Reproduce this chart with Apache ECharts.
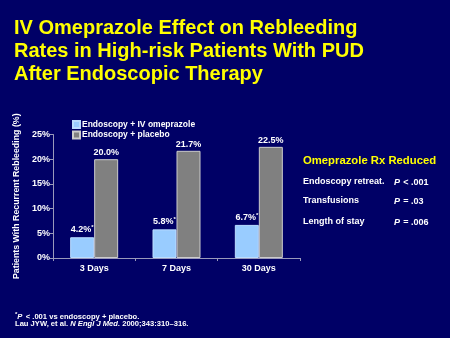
<!DOCTYPE html>
<html><head><meta charset="utf-8">
<style>html,body{margin:0;padding:0;background:#000066;}#c{width:450px;height:338px;}</style>
<script src="https://cdn.jsdelivr.net/npm/echarts@6/dist/echarts.min.js"></script>
</head><body><div id="c"></div>
<script>
var categories = ['3 Days', '7 Days', '30 Days'];
var omeprazole = [4.2, 5.8, 6.7];
var placebo = [20.0, 21.7, 22.5];
var seriesNames = ['Endoscopy + IV omeprazole', 'Endoscopy + placebo'];
var yTicks = [0, 5, 10, 15, 20, 25];
var titleLines = ['IV Omeprazole Effect on Rebleeding', 'Rates in High-risk Patients With PUD', 'After Endoscopic Therapy'];
var panelRows = [['Endoscopy retreat.', '<'], ['Transfusions', '='], ['Length of stay', '=']];
var panelP = ['.001', '.03', '.006'];

var F = 'Arial, "Liberation Sans", sans-serif';
var chart = echarts.init(document.getElementById('c'));
var graphics = [];
titleLines.forEach(function (t, i) {
  graphics.push({type: 'text', left: 14, top: 18 + i * 23,
    style: {text: t, fill: '#ffff00', font: 'bold 20px ' + F}});
});
graphics.push({type: 'text', left: 303, top: 155,
  style: {text: 'Omeprazole Rx Reduced', fill: '#ffff00', font: 'bold 11.3px ' + F}});
var rowY = [177, 196, 217];
panelRows.forEach(function (r, i) {
  graphics.push({type: 'text', left: 303, top: rowY[i],
    style: {text: r[0], fill: '#ffffff', font: 'bold 9px ' + F}});
  graphics.push({type: 'text', left: 394, top: rowY[i],
    style: {text: '{i|P} {n|' + r[1] + ' ' + panelP[i] + '}', rich: {
      i: {fill: '#ffffff', font: 'italic bold 9px ' + F},
      n: {fill: '#ffffff', font: 'bold 9px ' + F}}}});
});
graphics.push({type: 'text', left: 15, top: 311,
  style: {text: '{s|*}{i|P} {n|< .001 vs endoscopy + placebo.}', rich: {
    s: {fill: '#fff', font: 'bold 6px ' + F, verticalAlign: 'top', padding: [0,0,4,0]},
    i: {fill: '#fff', font: 'italic bold 7.6px ' + F},
    n: {fill: '#fff', font: 'bold 7.6px ' + F}}}});
graphics.push({type: 'text', left: 15, top: 319.5,
  style: {text: '{n|Lau JYW, et al. }{i|N Engl J Med.}{n| 2000;343:310–316.}', rich: {
    i: {fill: '#fff', font: 'italic bold 7.6px ' + F},
    n: {fill: '#fff', font: 'bold 7.6px ' + F}}}});

var lbl = function (star) {
  return {show: true, position: 'top', distance: 2,
    formatter: function (p) { return p.value.toFixed(1) + '%' + (star ? '{s|*}' : ''); },
    color: '#fff', fontFamily: F, fontWeight: 'bold', fontSize: 9,
    rich: {s: {color: '#fff', fontSize: 6, fontWeight: 'bold', padding: [0, 0, 5, 0]}}};
};

chart.setOption({
  backgroundColor: '#000066',
  animation: false,
  graphic: graphics,
  legend: {orient: 'vertical', left: 67, top: 115, itemWidth: 7, itemHeight: 7, itemGap: 1.5,
    icon: 'rect', data: seriesNames,
    textStyle: {color: '#fff', fontFamily: F, fontWeight: 'bold', fontSize: 8.5, padding: [0,0,0,-3]}},
  grid: {left: 53, right: 150, top: 134.5, bottom: 80},
  xAxis: {type: 'category', data: categories,
    axisLine: {lineStyle: {color: '#9999bb', width: 1}},
    axisTick: {show: true, length: 3, lineStyle: {color: '#9999bb'}},
    axisLabel: {color: '#fff', fontFamily: F, fontWeight: 'bold', fontSize: 9, margin: 6}},
  yAxis: {type: 'value', min: 0, max: 25, interval: 5,
    name: 'Patients With Recurrent Rebleeding (%)', nameLocation: 'middle', nameGap: 28,
    nameTextStyle: {color: '#fff', fontFamily: F, fontWeight: 'bold', fontSize: 8.8},
    axisLine: {show: true, lineStyle: {color: '#9999bb'}},
    axisTick: {show: true, length: 3, lineStyle: {color: '#9999bb'}},
    splitLine: {show: false},
    axisLabel: {color: '#fff', fontFamily: F, fontWeight: 'bold', fontSize: 9, margin: 3,
      formatter: function (v) { return yTicks.indexOf(v) >= 0 ? v + '%' : ''; }}},
  series: [
    {name: seriesNames[0], type: 'bar', data: omeprazole, barWidth: 24, barGap: '0%',
      itemStyle: {color: '#99ccff', borderColor: '#bbddff', borderWidth: 1}, label: lbl(true)},
    {name: seriesNames[1], type: 'bar', data: placebo, barWidth: 24,
      itemStyle: {color: '#808080', borderColor: '#cccccc', borderWidth: 1}, label: lbl(false)}
  ]
});
</script></body></html>
